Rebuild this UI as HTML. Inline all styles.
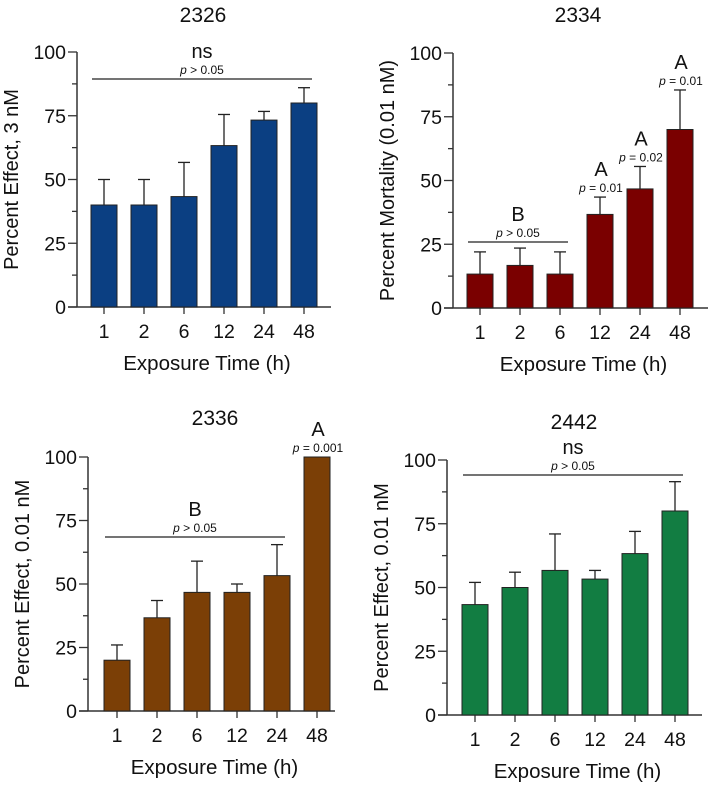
<!DOCTYPE html>
<html><head><meta charset="utf-8"><style>
body{margin:0;background:#fff;}
svg text{font-family:"Liberation Sans",Arial,sans-serif;fill:#111;}
</style></head><body>
<svg id="fig" width="709" height="784" viewBox="0 0 709 784" xmlns="http://www.w3.org/2000/svg"></svg>
<script>
const categories = ["1","2","6","12","24","48"];
const yTicks = [0,25,50,75,100];
const vals2326 = [40,40,43.3,63.3,73.3,80];
const err2326 = [50,50,56.7,75.5,76.7,86];
const vals2334 = [13.3,16.7,13.3,36.7,46.7,70];
const err2334 = [22,23.5,22,43.5,55.5,85.5];
const vals2336 = [20,36.7,46.7,46.7,53.3,100];
const err2336 = [26,43.5,59,50,65.5,null];
const vals2442 = [43.3,50,56.7,53.3,63.3,80];
const err2442 = [52,56,71,56.7,72,91.5];

const NS="http://www.w3.org/2000/svg";
const svg=document.getElementById('fig');
function mk(tag,attrs,parent,txt){const e=document.createElementNS(NS,tag);for(const k in attrs)e.setAttribute(k,attrs[k]);if(txt!==undefined)e.textContent=txt;(parent||svg).appendChild(e);return e;}

const panels=[
 {id:"2326",vals:vals2326,err:err2326,color:"#0b3f82",ax:77,y0:307,y100:52,x0c:104,xend:331,title:"2326",tx:203,ty:22,ylab:"Percent Effect, 3 nM",
  brackets:[{from:0,to:5,y:79,lab:"ns",p:"p > 0.05"}],labels:[]},
 {id:"2334",vals:vals2334,err:err2334,color:"#7a0000",ax:453,y0:308,y100:53,x0c:480,xend:708,title:"2334",tx:578,ty:22,ylab:"Percent Mortality (0.01 nM)",
  brackets:[{from:0,to:2,y:242,lab:"B",p:"p > 0.05"}],labels:[{i:3,lab:"A",p:"p = 0.01"},{i:4,lab:"A",p:"p = 0.02"},{i:5,lab:"A",p:"p = 0.01"}]},
 {id:"2336",vals:vals2336,err:err2336,color:"#7b3f06",ax:88,y0:711,y100:457,x0c:117,xend:335,title:"2336",tx:215,ty:425,ylab:"Percent Effect, 0.01 nM",
  brackets:[{from:0,to:4,y:537,lab:"B",p:"p > 0.05"}],labels:[{i:5,lab:"A",p:"p = 0.001"}]},
 {id:"2442",vals:vals2442,err:err2442,color:"#127d42",ax:447,y0:715,y100:460,x0c:475,xend:702,title:"2442",tx:574,ty:429,ylab:"Percent Effect, 0.01 nM",
  brackets:[{from:0,to:5,y:475,lab:"ns",p:"p > 0.05"}],labels:[]}
];
const step=40,bw=26;

panels.forEach(P=>{
  const g=mk('g',{});
  
  
  const yS=v=>P.y0-(P.y0-P.y100)*v/100;
  const xS=i=>P.x0c+i*step;
  const t=mk('text',{x:P.tx,y:P.ty,'text-anchor':'middle','font-size':21},g,P.title);
  
  
  const ya=mk('line',{x1:P.ax,y1:P.y100,x2:P.ax,y2:P.y0,stroke:'#333','stroke-width':1.5},g);
  
  
  for(let v=0;v<=100;v+=12.5){const major=v%25===0;mk('line',{x1:P.ax-(major?9:5),x2:P.ax,y1:yS(v),y2:yS(v),stroke:'#333','stroke-width':1.3},g);}
  yTicks.forEach(v=>{const tl=mk('text',{x:P.ax-11,y:yS(v)+7,'text-anchor':'end','font-size':19.5},g,String(v));
    
    });
  const yl=mk('text',{transform:`translate(${P.ax-59},${(P.y0+P.y100)/2}) rotate(-90)`,'text-anchor':'middle','font-size':20},g,P.ylab);
  
  
  const xa=mk('line',{x1:P.ax-9,y1:P.y0,x2:P.xend,y2:P.y0,stroke:'#333','stroke-width':1.5},g);
  
  
  categories.forEach((c,i)=>{
    mk('line',{x1:xS(i),x2:xS(i),y1:P.y0,y2:P.y0+7,stroke:'#333','stroke-width':1.3},g);
    const xl=mk('text',{x:xS(i),y:P.y0+31,'text-anchor':'middle','font-size':19.5},g,c);
    
    
  });
  const xt=mk('text',{x:(P.ax+P.xend)/2+3,y:P.y0+63,'text-anchor':'middle','font-size':20.5},g,"Exposure Time (h)");
  
  
  P.vals.forEach((v,i)=>{
    const e=P.err[i];
    if(e!==null){
      mk('line',{x1:xS(i),x2:xS(i),y1:yS(e),y2:yS(v),stroke:'#222','stroke-width':1.3},g);
      mk('line',{x1:xS(i)-6,x2:xS(i)+6,y1:yS(e),y2:yS(e),stroke:'#222','stroke-width':1.3},g);
    }
    const r=mk('rect',{x:xS(i)-bw/2,y:yS(v),width:bw,height:P.y0-yS(v),fill:P.color,stroke:'#222','stroke-width':1},g);
    
    
  });
  P.brackets.forEach(b=>{
    const x1=xS(b.from)-12,x2=xS(b.to)+8;
    const bl=mk('line',{x1:x1,x2:x2,y1:b.y,y2:b.y,stroke:'#222','stroke-width':1.3},g);
    
    
    const cx=(x1+x2)/2;
    const lt=mk('text',{x:cx,y:b.y-21,'text-anchor':'middle','font-size':20},g,b.lab);
    
    
    const pt=mk('text',{x:cx,y:b.y-5,'text-anchor':'middle','font-size':12},g);
    mk('tspan',{'font-style':'italic'},pt,'p');
    mk('tspan',{},pt,b.p.slice(1));
    
    
  });
  P.labels.forEach(l=>{
    const top=P.err[l.i]!==null?P.err[l.i]:P.vals[l.i];
    const yy=yS(top);
    const lt=mk('text',{x:xS(l.i)+1,y:yy-21,'text-anchor':'middle','font-size':20},g,l.lab);
    
    
    const pt=mk('text',{x:xS(l.i)+1,y:yy-5,'text-anchor':'middle','font-size':12},g);
    mk('tspan',{'font-style':'italic'},pt,'p');
    mk('tspan',{},pt,l.p.slice(1));
    
    
  });
});
</script>
</body></html>
